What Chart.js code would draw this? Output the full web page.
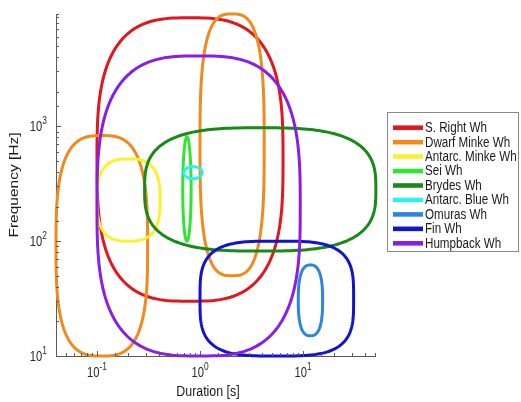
<!DOCTYPE html>
<html>
<head>
<meta charset="utf-8">
<script src="https://cdn.jsdelivr.net/npm/chart.js@4.4.1/dist/chart.umd.min.js"></script>
<style>
  html, body { margin: 0; padding: 0; background: #ffffff; }
  #wrap { width: 521px; height: 402px; position: relative; }
</style>
</head>
<body>
<div id="wrap"><canvas id="c" width="521" height="402"></canvas></div>
<script>
// Whale call types: duration and frequency ranges (log-log)
const species = ['S. Right Wh', 'Dwarf Minke Wh', 'Antarc. Minke Wh', 'Sei Wh', 'Brydes Wh',
                 'Antarc. Blue Wh', 'Omuras Wh', 'Fin Wh', 'Humpback Wh'];
// one entry per outlined region; regionOf points into species
const regionOf = [0, 1, 1, 2, 3, 4, 5, 6, 7, 8];
const durLow   = [0.1, 0.04, 1.0, 0.1, 0.68, 0.29, 0.7, 9.0, 1.0, 0.1];
const durHigh  = [6.4, 0.31, 4.2, 0.41, 0.82, 51, 1.05, 15.5, 31, 9.4];
const freqLow  = [30, 10, 50, 100, 100, 82, 350, 15, 10, 10];
const freqHigh = [8800, 830, 9500, 520, 810, 970, 445, 62, 100, 4100];

const xTickValues = [0.1, 1, 10];
const xTickExps   = ['-1', '0', '1'];
const yTickValues = [10, 100, 1000];
const yTickExps   = ['1', '2', '3'];

// styling
const colors = ['#e3161e', '#f08a1c', '#fbf22c', '#30e632', '#178a17',
                '#2ef0f0', '#2b86dc', '#1212d0', '#8b1ee6'];
const roundness = [3, 3, 3, 2.8, 2, 3, 2, 2.6, 3.5, 3];   // superellipse exponent per region
const SQUEEZE = 0.8;
const FONT = '"Liberation Sans", Arial, Helvetica, sans-serif';

const datasets = species.map((name, s) => {
  const pts = [], shape = [];
  regionOf.forEach((sp, r) => {
    if (sp !== s) return;
    pts.push({ x: durLow[r], y: freqLow[r] }, { x: durHigh[r], y: freqHigh[r] });
    shape.push(roundness[r]);
  });
  return { label: name, data: pts, shape, borderColor: colors[s], backgroundColor: colors[s],
           showLine: false, pointRadius: 0, pointHoverRadius: 0 };
});

function squeezedText(ctx, text, x, y, font, align, color, sq) {
  ctx.save();
  ctx.translate(x, y);
  ctx.scale(sq || SQUEEZE, 1);
  ctx.font = font;
  ctx.fillStyle = color;
  ctx.textAlign = align;
  ctx.textBaseline = 'middle';
  ctx.fillText(text, 0, 0);
  ctx.restore();
}
function textWidth(ctx, text, font) {
  ctx.save(); ctx.font = font; const w = ctx.measureText(text).width; ctx.restore();
  return w * SQUEEZE;
}

// rounded outlines for each range box
const regionOutlines = {
  id: 'regionOutlines',
  afterDatasetsDraw(chart) {
    const { ctx, scales: { x, y } } = chart;
    chart.data.datasets.forEach((ds) => {
      for (let k = 0; k < ds.data.length; k += 2) {
        const a = ds.data[k], b = ds.data[k + 1];
        const x1 = x.getPixelForValue(a.x), x2 = x.getPixelForValue(b.x);
        const y1 = y.getPixelForValue(a.y), y2 = y.getPixelForValue(b.y);
        const cx = (x1 + x2) / 2, cy = (y1 + y2) / 2;
        const rx = Math.abs(x2 - x1) / 2, ry = Math.abs(y2 - y1) / 2;
        const e = 2 / ds.shape[k / 2];
        ctx.save();
        ctx.beginPath();
        const N = 240;
        for (let i = 0; i <= N; i++) {
          const t = (i / N) * Math.PI * 2;
          const c = Math.cos(t), s = Math.sin(t);
          const px = cx + rx * Math.sign(c) * Math.pow(Math.abs(c), e);
          const py = cy + ry * Math.sign(s) * Math.pow(Math.abs(s), e);
          if (i === 0) ctx.moveTo(px, py); else ctx.lineTo(px, py);
        }
        ctx.closePath();
        ctx.lineWidth = 3;
        ctx.lineJoin = 'round';
        ctx.strokeStyle = ds.borderColor;
        ctx.stroke();
        ctx.restore();
      }
    });
  }
};

// inward tick marks, power-of-ten labels and axis titles
const logAxes = {
  id: 'logAxes',
  afterDraw(chart) {
    const { ctx, chartArea: ca, scales: { x, y } } = chart;
    ctx.save();
    ctx.strokeStyle = '#5a5a5a';
    ctx.lineWidth = 1;
    const isMajor = v => Math.abs(Math.log10(v) - Math.round(Math.log10(v))) < 1e-9;
    ctx.beginPath();
    x.ticks.forEach(t => {
      if (t.value < x.min || t.value > x.max) return;
      const px = Math.round(x.getPixelForValue(t.value)) + 0.5;
      const len = isMajor(t.value) ? 5 : 3;
      ctx.moveTo(px, ca.bottom); ctx.lineTo(px, ca.bottom - len);
    });
    y.ticks.forEach(t => {
      if (t.value < y.min || t.value > y.max) return;
      const py = Math.round(y.getPixelForValue(t.value)) + 0.5;
      const len = isMajor(t.value) ? 5 : 3;
      ctx.moveTo(ca.left, py); ctx.lineTo(ca.left + len, py);
    });
    ctx.stroke();
    ctx.restore();

    const baseFont = '14px ' + FONT, expFont = '10.5px ' + FONT;
    const txt = '#2a2a2a';
    xTickValues.forEach((v, i) => {
      const px = x.getPixelForValue(v);
      const w1 = textWidth(ctx, '10', baseFont), w2 = textWidth(ctx, xTickExps[i], expFont);
      const start = px - (w1 + w2) / 2;
      squeezedText(ctx, '10', start, ca.bottom + 17, baseFont, 'left', txt);
      squeezedText(ctx, xTickExps[i], start + w1, ca.bottom + 11, expFont, 'left', txt);
    });
    yTickValues.forEach((v, i) => {
      const py = y.getPixelForValue(v);
      const w1 = textWidth(ctx, '10', baseFont), w2 = textWidth(ctx, yTickExps[i], expFont);
      const start = ca.left - 9 - (w1 + w2);
      squeezedText(ctx, '10', start, py + 1, baseFont, 'left', txt);
      squeezedText(ctx, yTickExps[i], start + w1, py - 5, expFont, 'left', txt);
    });

    squeezedText(ctx, 'Duration [s]', 208, 392, '15.5px ' + FONT, 'center', '#1a1a1a');
    ctx.save();
    ctx.translate(15, (ca.top + ca.bottom) / 2);
    ctx.scale(SQUEEZE, 1);
    ctx.rotate(-Math.PI / 2);
    ctx.font = '15.5px ' + FONT;
    ctx.fillStyle = '#1a1a1a';
    ctx.textAlign = 'center';
    ctx.textBaseline = 'middle';
    ctx.fillText('Frequency [Hz]', 0, 0);
    ctx.restore();
  }
};

// framed key on the right
const framedKey = {
  id: 'framedKey',
  afterDraw(chart) {
    const { ctx } = chart;
    const left = 387, top = 112, right = 518, bottom = 251;
    ctx.save();
    ctx.fillStyle = '#ffffff';
    ctx.fillRect(left, top, right - left, bottom - top);
    ctx.strokeStyle = '#8a8a8a';
    ctx.lineWidth = 1;
    ctx.strokeRect(left + 0.5, top + 0.5, right - left, bottom - top);
    chart.data.datasets.forEach((ds, i) => {
      const cy = 127.7 + i * 14.45;
      ctx.fillStyle = ds.borderColor;
      ctx.fillRect(393, cy - 2.3, 30, 4.6);
      squeezedText(ctx, ds.label, 425, cy + 0.5, '14px ' + FONT, 'left', '#1a1a1a', 0.83);
    });
    ctx.restore();
  }
};

new Chart(document.getElementById('c'), {
  type: 'scatter',
  data: { datasets },
  options: {
    responsive: false,
    animation: false,
    events: [],
    layout: { padding: { top: 14, right: 146, left: 0, bottom: 0 } },
    plugins: { legend: { display: false }, tooltip: { enabled: false }, title: { display: false } },
    scales: {
      x: {
        type: 'logarithmic', min: 0.04, max: 50,
        grid: { display: false },
        border: { display: true, color: '#5a5a5a', width: 1 },
        ticks: { display: false },
        afterFit(scale) { scale.height = 46; }
      },
      y: {
        type: 'logarithmic', min: 10, max: 9500,
        grid: { display: false },
        border: { display: true, color: '#5a5a5a', width: 1 },
        ticks: { display: false },
        afterFit(scale) { scale.width = 56; }
      }
    }
  },
  plugins: [regionOutlines, logAxes, framedKey]
});
</script>
</body>
</html>
